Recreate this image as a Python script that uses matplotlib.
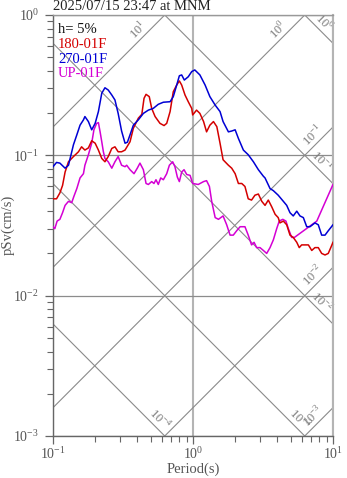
import numpy as np
import matplotlib
matplotlib.use("Agg")
import matplotlib.pyplot as plt

plt.rcParams["font.family"] = ["Liberation Serif", "DejaVu Serif"]
plt.rcParams["mathtext.fontset"] = "custom"
plt.rcParams["mathtext.rm"] = "Liberation Serif"

TITLE = "2025/07/15 23:47 at MNM"
DAMPING = "h= 5%"

# 180-01F
NS_NAME = "180-01F"
NS_PERIOD = [0.100, 0.106, 0.112, 0.117, 0.122, 0.129, 0.140, 0.152, 0.160, 0.169,
             0.179, 0.189, 0.200, 0.211, 0.223, 0.235, 0.248, 0.263, 0.277, 0.292,
             0.309, 0.327, 0.355, 0.375, 0.407, 0.431, 0.447, 0.462, 0.487, 0.507,
             0.536, 0.581, 0.621, 0.649, 0.686, 0.723, 0.765, 0.799, 0.830, 0.877,
             0.925, 0.979, 0.995, 1.06, 1.12, 1.19, 1.25, 1.32, 1.40, 1.48,
             1.56, 1.64, 1.79, 1.89, 2.00, 2.11, 2.23, 2.35, 2.48, 2.62,
             2.77, 2.93, 3.10, 3.27, 3.45, 3.65, 3.86, 4.06, 4.18, 4.42,
             4.67, 4.93, 5.20, 5.51, 5.74, 5.97, 6.31, 6.67, 7.05, 7.43,
             7.85, 8.30, 8.77, 9.25, 9.64, 10.0]
NS_PSV = [0.049, 0.049, 0.054, 0.061, 0.076, 0.090, 0.098, 0.106, 0.115, 0.109,
          0.113, 0.127, 0.122, 0.109, 0.095, 0.090, 0.098, 0.112, 0.115, 0.106,
          0.106, 0.109, 0.125, 0.156, 0.184, 0.196, 0.255, 0.272, 0.262, 0.216,
          0.189, 0.169, 0.163, 0.169, 0.205, 0.284, 0.317, 0.339, 0.317, 0.269,
          0.241, 0.216, 0.194, 0.210, 0.199, 0.174, 0.147, 0.164, 0.174, 0.160,
          0.122, 0.093, 0.085, 0.081, 0.074, 0.063, 0.063, 0.060, 0.049, 0.048,
          0.052, 0.053, 0.047, 0.044, 0.048, 0.043, 0.038, 0.036, 0.033, 0.034,
          0.032, 0.027, 0.026, 0.024, 0.022, 0.023, 0.023, 0.023, 0.021, 0.022,
          0.022, 0.020, 0.0195, 0.020, 0.022, 0.024]

# 270-01F
EW_NAME = "270-01F"
EW_PERIOD = [0.100, 0.106, 0.112, 0.122, 0.129, 0.140, 0.148, 0.156, 0.165, 0.169,
             0.179, 0.189, 0.200, 0.211, 0.223, 0.235, 0.248, 0.263, 0.277, 0.292,
             0.309, 0.327, 0.340, 0.355, 0.375, 0.407, 0.442, 0.480, 0.520, 0.565,
             0.614, 0.686, 0.723, 0.765, 0.799, 0.830, 0.867, 0.925, 0.979, 1.03,
             1.12, 1.22, 1.32, 1.44, 1.56, 1.64, 1.79, 1.89, 2.00, 2.11,
             2.29, 2.48, 2.70, 2.93, 3.18, 3.27, 3.55, 3.75, 4.06, 4.42,
             4.67, 4.93, 5.20, 5.51, 5.81, 6.14, 6.49, 6.85, 7.43, 7.85,
             8.30, 8.77, 9.25, 10.0]
EW_PSV = [0.083, 0.089, 0.088, 0.081, 0.085, 0.119, 0.140, 0.164, 0.179, 0.189,
          0.174, 0.152, 0.169, 0.205, 0.277, 0.303, 0.292, 0.269, 0.248, 0.199,
          0.149, 0.122, 0.124, 0.140, 0.164, 0.179, 0.199, 0.210, 0.216, 0.231,
          0.239, 0.241, 0.262, 0.317, 0.369, 0.374, 0.344, 0.363, 0.395, 0.406,
          0.374, 0.317, 0.262, 0.228, 0.205, 0.174, 0.147, 0.149, 0.152, 0.132,
          0.109, 0.101, 0.090, 0.079, 0.071, 0.069, 0.058, 0.056, 0.052, 0.047,
          0.044, 0.039, 0.037, 0.040, 0.037, 0.036, 0.031, 0.031, 0.033, 0.032,
          0.027, 0.027, 0.029, 0.032]

# UP-01F
UD_NAME = "UP-01F"
UD_PERIOD = [0.100, 0.103, 0.107, 0.112, 0.117, 0.122, 0.129, 0.136, 0.141, 0.148,
             0.156, 0.165, 0.169, 0.179, 0.189, 0.196, 0.205, 0.211, 0.217, 0.223,
             0.229, 0.235, 0.248, 0.263, 0.277, 0.292, 0.309, 0.327, 0.336, 0.355,
             0.379, 0.400, 0.418, 0.442, 0.462, 0.480, 0.507, 0.526, 0.544, 0.565,
             0.588, 0.614, 0.649, 0.678, 0.716, 0.743, 0.773, 0.799, 0.830, 0.863,
             0.902, 0.953, 0.995, 1.09, 1.19, 1.25, 1.31, 1.36, 1.44, 1.52,
             1.64, 1.74, 1.84, 1.94, 2.05, 2.17, 2.35, 2.48, 2.62, 2.73,
             2.85, 3.01, 3.18, 3.36, 3.55, 3.75, 3.96, 4.13, 4.38, 4.61,
             4.80, 5.07, 5.30, 7.66, 10.0]
UD_PSV = [0.031, 0.030, 0.034, 0.035, 0.039, 0.044, 0.047, 0.046, 0.051, 0.058,
          0.069, 0.074, 0.085, 0.101, 0.122, 0.152, 0.169, 0.171, 0.147, 0.125,
          0.106, 0.095, 0.090, 0.081, 0.090, 0.098, 0.085, 0.083, 0.085, 0.079,
          0.074, 0.081, 0.088, 0.079, 0.063, 0.062, 0.065, 0.063, 0.067, 0.062,
          0.069, 0.067, 0.074, 0.085, 0.090, 0.083, 0.070, 0.065, 0.076, 0.079,
          0.073, 0.072, 0.063, 0.062, 0.065, 0.066, 0.060, 0.047, 0.036, 0.035,
          0.037, 0.032, 0.027, 0.027, 0.029, 0.031, 0.031, 0.027, 0.023, 0.024,
          0.022, 0.022, 0.021, 0.020, 0.022, 0.025, 0.030, 0.034, 0.035, 0.034,
          0.030, 0.026, 0.026, 0.034, 0.062]

# tripartite guide lines
SD_LEVELS = [1e-4, 1e-3, 1e-2, 1e-1, 1.0]   # displacement (cm)
SA_LEVELS = [1e-3, 1e-2, 1e-1, 1.0, 10.0]   # acceleration (cm/s^2)

T_MIN, T_MAX = 0.1, 10.0
V_MIN, V_MAX = 1e-3, 1.0

GUIDE = "#8a8a8a"
TXT = "#555555"

fig = plt.figure(figsize=(3.47, 4.78), dpi=100)
ax = fig.add_axes([53 / 347, 1 - 436 / 478, 280 / 347, 421 / 478])
ax.set_xscale("log")
ax.set_yscale("log")
ax.set_xlim(T_MIN, T_MAX)
ax.set_ylim(V_MIN, V_MAX)

t_edge = np.array([T_MIN, T_MAX])
lt0, lt1 = np.log10(T_MIN), np.log10(T_MAX)
lv0, lv1 = np.log10(V_MIN), np.log10(V_MAX)

for sd in SD_LEVELS:
    ax.plot(t_edge, 2 * np.pi * sd / t_edge, color=GUIDE, lw=0.8, zorder=1)
    c = np.log10(2 * np.pi * sd)          # log v = c - log t
    lt = min(lt1, c - lv0)
    back = 0.06 if lt == lt1 else 0.02
    lt -= back
    ax.text(10 ** lt, 10 ** (c - lt), f"$10^{{{int(np.log10(sd))}}}$",
            rotation=-45, rotation_mode="anchor", ha="right", va="bottom",
            fontsize=9, color="#777777", zorder=2)

for sa in SA_LEVELS:
    ax.plot(t_edge, sa * t_edge / (2 * np.pi), color=GUIDE, lw=0.8, zorder=1)
    c = np.log10(sa / (2 * np.pi))        # log v = c + log t
    lt = min(lt1, lv1 - c)
    back = 0.04 if lt == lt1 else 0.1
    lt -= back
    ax.text(10 ** lt, 10 ** (c + lt), f"$10^{{{int(np.log10(sa))}}}$",
            rotation=45, rotation_mode="anchor", ha="right", va="bottom",
            fontsize=9, color="#777777", zorder=2)

ax.grid(True, which="major", axis="x", color="#b4b4b4", lw=1.5, zorder=1)
ax.grid(True, which="major", axis="y", color="#8c8c8c", lw=0.9, zorder=1)
ax.set_axisbelow(True)

ax.plot(UD_PERIOD, UD_PSV, color="#d400d4", lw=1.1, zorder=3)
ax.plot(NS_PERIOD, NS_PSV, color="#d40000", lw=1.1, zorder=4)
ax.plot(EW_PERIOD, EW_PSV, color="#0000d4", lw=1.1, zorder=5)

for side in ("left", "bottom"):
    ax.spines[side].set_color("#666666")
    ax.spines[side].set_linewidth(1.0)
ax.spines["right"].set_color("#b4b4b4")
ax.spines["right"].set_linewidth(1.5)
ax.spines["top"].set_color("#999999")
ax.spines["top"].set_linewidth(1.0)

ax.tick_params(which="both", direction="out", top=False, right=False,
               color="#666666", labelcolor=TXT, labelsize=10)
ax.tick_params(which="major", length=6, width=0.9)
ax.tick_params(which="minor", length=4, width=0.8)
ax.tick_params(axis="x", which="major", pad=1.5)
ax.tick_params(axis="y", which="major", pad=4)

# legend block drawn as plain text lines
ax.text(0.018, 0.9565, DAMPING, transform=ax.transAxes, fontsize=10.5,
        color="#111111", va="baseline")
for yy, name, col in [(0.922, NS_NAME, "#d40000"),
                      (0.885, EW_NAME, "#0000d4"),
                      (0.8535, UD_NAME, "#d400d4")]:
    ax.text(0.018, yy, name, transform=ax.transAxes, fontsize=10.5,
            color=col, va="baseline", zorder=6)

fig.text(53 / 347, 1 - 10 / 478, TITLE, fontsize=10.5, color="#222222",
         ha="left", va="baseline")
fig.text(8 / 347, 1 - 225 / 478, "pSv(cm/s)", rotation=90, fontsize=10.5,
         color=TXT, ha="center", va="center")
fig.text(193 / 347, 1 - 469 / 478, "Period(s)", fontsize=10.5,
         color=TXT, ha="center", va="center")

fig.savefig("out.png", dpi=100)
